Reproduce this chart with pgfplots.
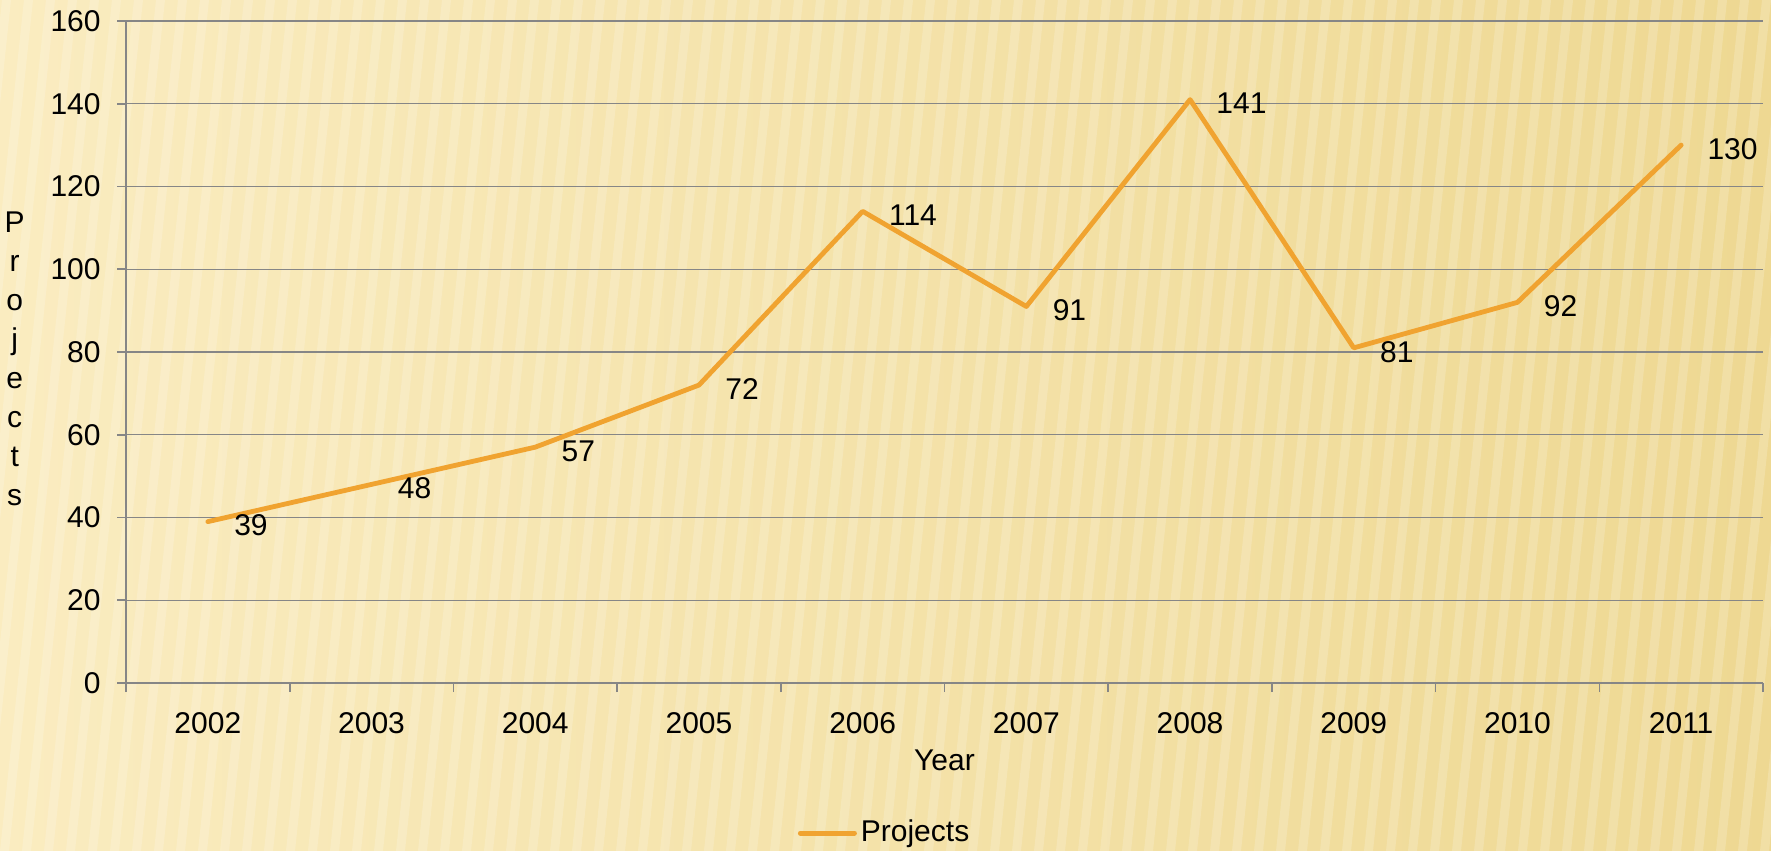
\documentclass[border=0pt]{standalone}
\usepackage{fontspec}
\setmainfont{Liberation Sans}
\usepackage{pgfplots}
\pgfplotsset{compat=1.18}
\definecolor{lineor}{RGB}{240,163,48}
\definecolor{axgray}{RGB}{134,134,134}
\definecolor{bgleft}{RGB}{250,236,192}
\definecolor{bgright}{RGB}{238,216,146}
\begin{document}
\fontsize{15bp}{18bp}\selectfont
\begin{tikzpicture}
\shade[left color=bgleft, right color=bgright] (0,0) rectangle (885.5bp,425.5bp);
\begin{scope}
\clip (0,0) rectangle (885.5bp,425.5bp);
\foreach \i in {-10,...,85}{
  \fill[white, opacity=0.18] (\i*11bp,0) -- (\i*11bp+4.5bp,0) -- (\i*11bp+4.5bp+45bp,425.5bp) -- (\i*11bp+45bp,425.5bp) -- cycle;
}
\end{scope}
\begin{axis}[
  at={(63bp,84bp)}, anchor=south west,
  scale only axis, width=818.5bp, height=331bp,
  xmin=-0.5, xmax=9.5, ymin=0, ymax=160,
  ytick={0,20,...,160},
  xtick={0,...,9},
  xticklabels={2002,2003,2004,2005,2006,2007,2008,2009,2010,2011},
  minor xtick={-0.5,0.5,...,9.5},
  major x tick style={draw=none},
  major tick length=4.5bp, minor tick length=4.5bp,
  tick align=outside,
  axis x line*=bottom, axis y line*=left,
  ymajorgrids,
  grid style={axgray, line width=0.7bp},
  axis line style={axgray, line width=0.8bp},
  tick style={axgray, line width=0.8bp},
  /pgf/number format/assume math mode=true,
  ticklabel style={font=\fontsize{15bp}{18bp}\selectfont, black},
  xticklabel style={yshift=-5bp},
  yticklabel style={xshift=-3bp},
  xlabel={Year},
  xlabel style={at={(axis description cs:0.5,-0.1163)}, anchor=center, font=\fontsize{15bp}{18bp}\selectfont},
  ylabel={P\\r\\o\\j\\e\\c\\t\\s},
  ylabel style={at={(axis description cs:-0.068,0.49)}, rotate=-90, anchor=center, align=center, font=\fontsize{15bp}{19.5bp}\selectfont},
  nodes near coords,
  every node near coord/.append style={anchor=west, xshift=7bp, yshift=-2bp, black, font=\fontsize{15bp}{18bp}\selectfont},
  legend style={at={(axis description cs:0.464,-0.2266)}, anchor=center, draw=none, fill=none, font=\fontsize{15bp}{18bp}\selectfont},
  legend image code/.code={\draw[#1, line width=2.5bp, line cap=round] (0bp,0bp) -- (27bp,0bp);},
]
\addplot[lineor, line width=2.4bp, line join=round, line cap=round] coordinates {
  (0,39) (1,48) (2,57) (3,72) (4,114) (5,91) (6,141) (7,81) (8,92) (9,130)
};
\addlegendentry{Projects}
\end{axis}
\pgfresetboundingbox
\useasboundingbox (0,0) rectangle (885.5bp,425.5bp);
\end{tikzpicture}
\end{document}
